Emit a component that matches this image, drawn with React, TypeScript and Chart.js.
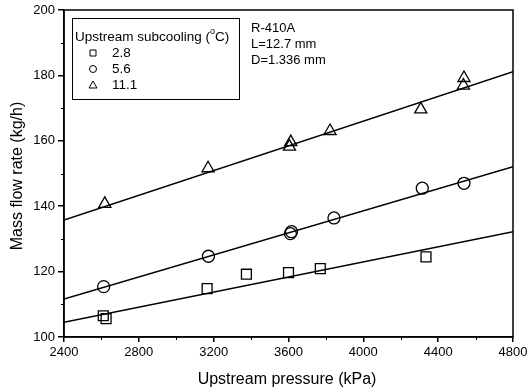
import React, { useEffect, useRef } from "react";
import { Chart, registerables } from "chart.js";
Chart.register(...registerables);

const xTicks = [2400, 2800, 3200, 3600, 4000, 4400, 4800];
const yTicks = [100, 120, 140, 160, 180, 200];
const xMinor = [2600, 3000, 3400, 3800, 4200, 4600];
const yMinor = [110, 130, 150, 170, 190];

const sub28X = [2610, 2625, 3165, 3375, 3600, 3770, 4335];
const sub28Y = [106.5, 105.6, 114.8, 119.2, 119.7, 120.9, 124.5];
const sub56X = [2612, 3172, 3610, 3616, 3843, 4315, 4538];
const sub56Y = [115.4, 124.7, 131.6, 132.2, 136.4, 145.5, 147.0];
const sub111X = [2618, 3170, 3605, 3612, 3822, 4307, 4535, 4538];
const sub111Y = [140.7, 151.6, 158.2, 159.6, 163.0, 169.6, 176.9, 179.2];

const fitX = [2400, 4800];
const fit28Y = [104.5, 132.2];
const fit56Y = [111.6, 152.1];
const fit111Y = [135.8, 181.1];

const legendTitle = "Upstream subcooling (";
const legendLabels = ["2.8", "5.6", "11.1"];
const legendShapes = ["rect", "circle", "triangle"];
const noteLines = ["R-410A", "L=12.7 mm", "D=1.336 mm"];
const xTitle = "Upstream pressure (kPa)";
const yTitle = "Mass flow rate (kg/h)";

const FONT = "'Liberation Sans', Arial, sans-serif";

const pts = (xs: number[], ys: number[]) => xs.map((x, i) => ({ x, y: ys[i] }));

const overlay = {
  id: "overlay",
  afterDraw(chart: any) {
    const ctx = chart.ctx as CanvasRenderingContext2D;
    const { left, right, top, bottom } = chart.chartArea;
    const xs = chart.scales.x;
    const ys = chart.scales.y;
    ctx.save();
    ctx.strokeStyle = "#000";
    ctx.lineWidth = 1.5;
    ctx.strokeRect(left, top, right - left, bottom - top);
    ctx.lineWidth = 1;
    xMinor.forEach((v) => {
      const px = Math.round(xs.getPixelForValue(v)) + 0.5;
      ctx.beginPath();
      ctx.moveTo(px, bottom);
      ctx.lineTo(px, bottom + 3);
      ctx.stroke();
    });
    yMinor.forEach((v) => {
      const py = Math.round(ys.getPixelForValue(v)) + 0.5;
      ctx.beginPath();
      ctx.moveTo(left, py);
      ctx.lineTo(left - 3, py);
      ctx.stroke();
    });
    // axis titles
    ctx.fillStyle = "#000";
    ctx.font = `16px ${FONT}`;
    ctx.textAlign = "center";
    ctx.textBaseline = "middle";
    ctx.fillText(xTitle, 287, 380);
    ctx.save();
    ctx.translate(18, 176);
    ctx.rotate(-Math.PI / 2);
    ctx.fillText(yTitle, 0, 0);
    ctx.restore();
    // legend box
    ctx.lineWidth = 1;
    ctx.strokeRect(72.5, 18.5, 167, 81);
    ctx.font = `13.5px ${FONT}`;
    ctx.textAlign = "left";
    let tx = 75;
    ctx.fillText(legendTitle, tx, 37);
    tx += ctx.measureText(legendTitle).width;
    ctx.font = `9px ${FONT}`;
    ctx.fillText("o", tx, 32);
    tx += ctx.measureText("o").width;
    ctx.font = `13.5px ${FONT}`;
    ctx.fillText("C)", tx, 37);
    const ly = [53, 69, 85];
    legendLabels.forEach((lab, i) => {
      ctx.fillText(lab, 112, ly[i]);
      ctx.beginPath();
      const cx = 93, cy = ly[i];
      if (legendShapes[i] === "rect") {
        ctx.rect(cx - 3, cy - 3, 6, 6);
      } else if (legendShapes[i] === "circle") {
        ctx.arc(cx, cy, 3.5, 0, Math.PI * 2);
      } else {
        ctx.moveTo(cx, cy - 4);
        ctx.lineTo(cx + 4, cy + 3);
        ctx.lineTo(cx - 4, cy + 3);
        ctx.closePath();
      }
      ctx.stroke();
    });
    // note
    ctx.font = `13px ${FONT}`;
    noteLines.forEach((t, i) => ctx.fillText(t, 251, 28 + i * 16));
    ctx.restore();
  },
};

export default function App() {
  const ref = useRef<HTMLCanvasElement>(null);
  useEffect(() => {
    if (!ref.current) return;
    const mk = (data: any, shape: string, r: number) => ({
      data,
      showLine: false,
      pointStyle: shape,
      pointRadius: r,
      pointBorderColor: "#000",
      pointBackgroundColor: "rgba(0,0,0,0)",
      pointBorderWidth: 1.3,
    });
    const line = (ys: number[]) => ({
      data: pts(fitX, ys),
      showLine: true,
      pointRadius: 0,
      borderColor: "#000",
      borderWidth: 1.5,
    });
    const tickFont = { family: FONT, size: 13 };
    const chart = new Chart(ref.current, {
      type: "scatter",
      data: {
        datasets: [
          line(fit28Y),
          line(fit56Y),
          line(fit111Y),
          mk(pts(sub28X, sub28Y), "rect", 7),
          mk(pts(sub56X, sub56Y), "circle", 6),
          mk(pts(sub111X, sub111Y), "triangle", 7),
        ] as any,
      },
      options: {
        responsive: false,
        animation: false,
        devicePixelRatio: 1,
        layout: { padding: { top: 10, right: 14, left: 0, bottom: 0 } },
        plugins: { legend: { display: false }, tooltip: { enabled: false } },
        scales: {
          x: {
            type: "linear",
            min: 2400,
            max: 4800,
            afterBuildTicks: (s: any) => {
              s.ticks = xTicks.map((v) => ({ value: v }));
            },
            afterFit: (s: any) => {
              s.height = 55;
              s.paddingLeft = 0;
              s.paddingRight = 0;
            },
            grid: { drawOnChartArea: false, drawTicks: true, tickLength: 5, color: "#000", lineWidth: 1.5 },
            border: { display: true, color: "#000", width: 1.5 },
            ticks: { color: "#000", font: tickFont, padding: 3, maxRotation: 0, autoSkip: false, callback: (v: any) => String(v) },
          },
          y: {
            type: "linear",
            min: 100,
            max: 200,
            afterBuildTicks: (s: any) => {
              s.ticks = yTicks.map((v) => ({ value: v }));
            },
            afterFit: (s: any) => {
              s.width = 64;
              s.paddingTop = 0;
              s.paddingBottom = 0;
            },
            grid: { drawOnChartArea: false, drawTicks: true, tickLength: 6, color: "#000", lineWidth: 1.5 },
            border: { display: true, color: "#000", width: 1.5 },
            ticks: { color: "#000", font: tickFont, padding: 3, autoSkip: false, callback: (v: any) => String(v) },
          },
        },
      } as any,
      plugins: [overlay],
    });
    return () => chart.destroy();
  }, []);
  return (
    <div style={{ position: "absolute", left: 0, top: 0, width: 527, height: 392, background: "#fff" }}>
      <canvas ref={ref} width={527} height={392} style={{ width: 527, height: 392 }} />
    </div>
  );
}
